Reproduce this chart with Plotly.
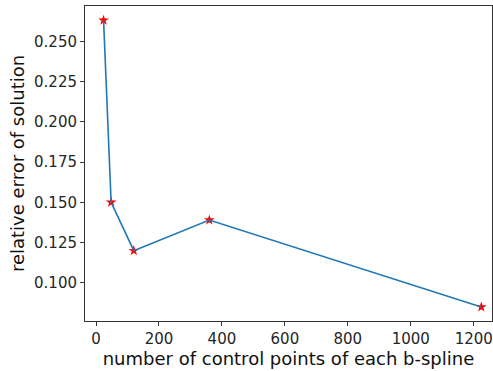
import plotly.graph_objects as go

control_points = [24, 48, 120, 360, 1224]
relative_error = [0.263, 0.150, 0.120, 0.139, 0.085]

x_tickvals = [0, 200, 400, 600, 800, 1000, 1200]
y_tickvals = [0.100, 0.125, 0.150, 0.175, 0.200, 0.225, 0.250]
y_ticktext = ["0.100", "0.125", "0.150", "0.175", "0.200", "0.225", "0.250"]

fig = go.Figure()
fig.add_trace(go.Scatter(
    x=control_points, y=relative_error, mode="markers",
    marker=dict(symbol="star", color="red", size=8, line=dict(width=0)),
    showlegend=False))
fig.add_trace(go.Scatter(
    x=control_points, y=relative_error, mode="lines",
    line=dict(color="#1f77b4", width=1.6), showlegend=False))

axis_common = dict(
    showgrid=False, zeroline=False, showline=True, linecolor="#333333",
    linewidth=1, mirror=True, ticks="outside", ticklen=4, tickwidth=1,
    tickcolor="#333333", automargin=False,
    tickfont=dict(family="DejaVu Sans", size=15, color="#262626"))

fig.update_layout(
    width=493, height=371,
    margin=dict(l=85, r=1, t=6, b=50),
    plot_bgcolor="white", paper_bgcolor="white",
    xaxis=dict(range=[-35, 1258], tickvals=x_tickvals,
               title=dict(text="number of control points of each b-spline",
                          font=dict(family="DejaVu Sans", size=18, color="#111111"),
                          standoff=1),
               **axis_common),
    yaxis=dict(range=[0.0763, 0.2719], tickvals=y_tickvals, ticktext=y_ticktext,
               title=dict(text="relative error of solution",
                          font=dict(family="DejaVu Sans", size=18, color="#111111"),
                          standoff=4),
               **axis_common),
)

fig.write_html("out.html", config={"displayModeBar": False},
               post_script="document.body.style.margin='0';document.body.style.overflow='hidden';")
